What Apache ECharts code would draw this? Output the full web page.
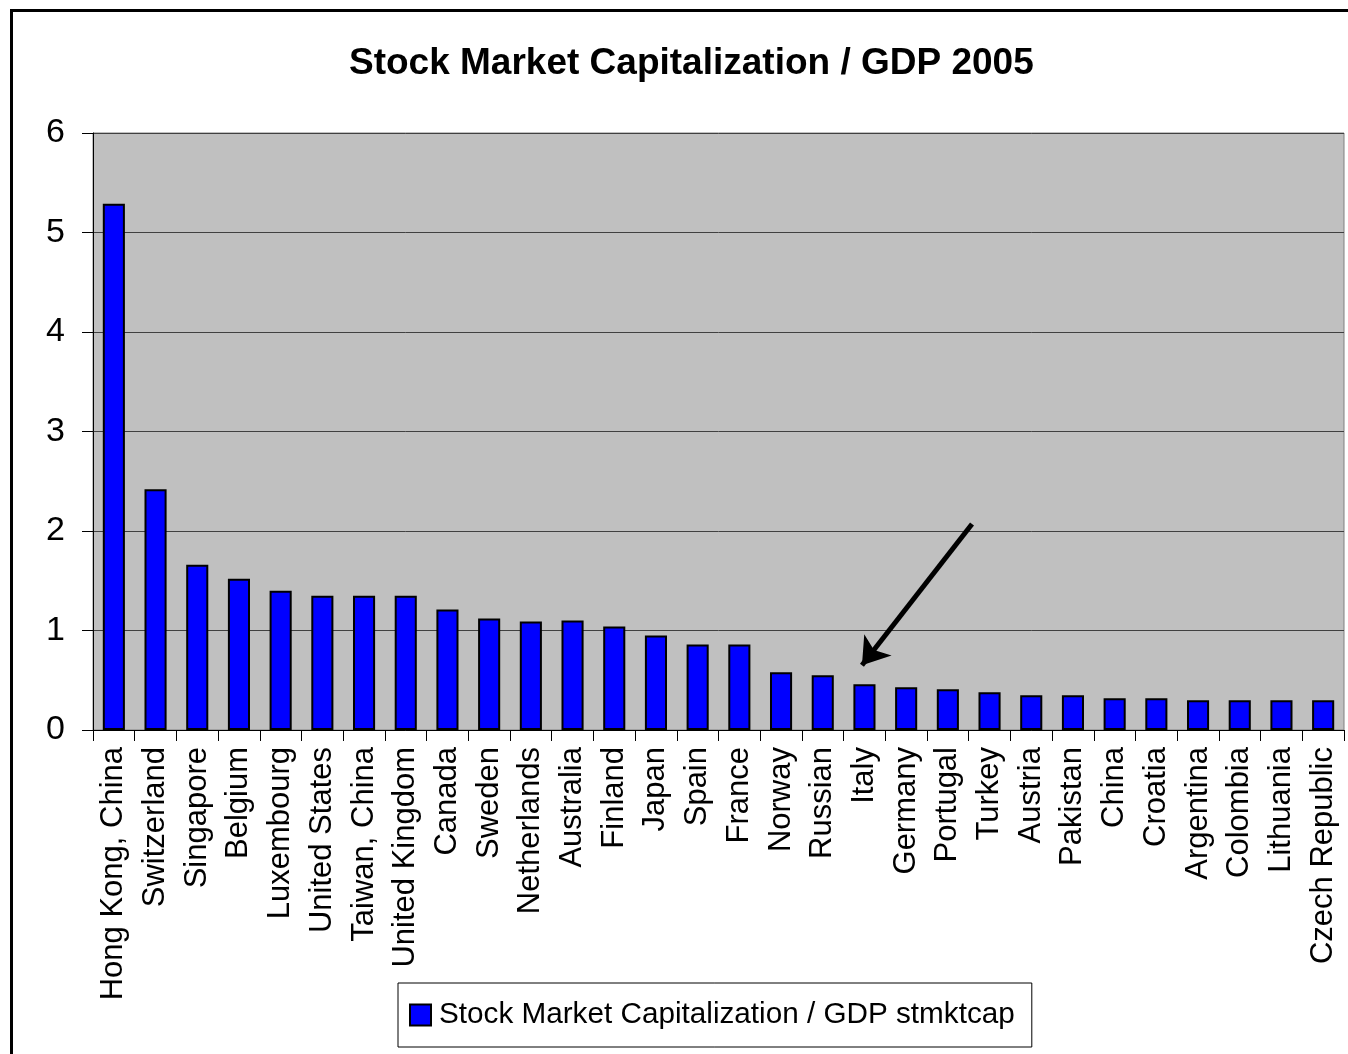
<!DOCTYPE html>
<html>
<head>
<meta charset="utf-8">
<script src="https://cdn.jsdelivr.net/npm/echarts@6/dist/echarts.min.js"></script>
<style>
html,body{margin:0;padding:0;background:#fff;}
#wrap{position:relative;width:1348px;height:1054px;overflow:hidden;}
#frame{position:absolute;left:10px;top:9px;width:1400px;height:1100px;border:3px solid #000;box-sizing:border-box;pointer-events:none;z-index:2;}
#chart{position:absolute;left:0;top:0;width:1348px;height:1054px;}
</style>
</head>
<body>
<div id="wrap"><div id="chart"></div><div id="frame"></div></div>
<script>
const categories = ["Hong Kong, China","Switzerland","Singapore","Belgium","Luxembourg","United States","Taiwan, China","United Kingdom","Canada","Sweden","Netherlands","Australia","Finland","Japan","Spain","France","Norway","Russian","Italy","Germany","Portugal","Turkey","Austria","Pakistan","China","Croatia","Argentina","Colombia","Lithuania","Czech Republic"];
const values = [5.29,2.42,1.66,1.52,1.40,1.35,1.35,1.35,1.21,1.12,1.09,1.10,1.04,0.95,0.86,0.86,0.58,0.55,0.46,0.43,0.41,0.38,0.35,0.35,0.32,0.32,0.30,0.30,0.30,0.30];
const seriesName = "Stock Market Capitalization / GDP stmktcap";
const titleText = "Stock Market Capitalization / GDP 2005";
const yTicks = [0,1,2,3,4,5,6];
// arrow annotation in data space (category position, value)
const arrowFrom = [20.58, 2.07];
const arrowTo = [17.94, 0.65];

const chart = echarts.init(document.getElementById('chart'), null, {renderer:'canvas'});
const font = 'Arial, "Liberation Sans", sans-serif';
chart.setOption({
  animation:false,
  backgroundColor:'#fff',
  title:{text:titleText,left:344,top:40,textStyle:{fontFamily:font,fontWeight:'bold',fontSize:37,color:'#000'}},
  grid:{left:93,right:4,top:133,bottom:324,show:true,backgroundColor:'#c0c0c0',borderColor:'#808080',borderWidth:1},
  legend:{
    data:[seriesName],left:398,top:983,padding:[17,17,17,11],
    borderColor:'#000',borderWidth:1,backgroundColor:'#fff',borderRadius:0,
    itemWidth:21,itemHeight:21,itemGap:8,icon:'rect',
    textStyle:{fontFamily:font,fontSize:29.7,color:'#000',padding:[0,0,0,3]},
    itemStyle:{borderColor:'#000',borderWidth:2}
  },
  xAxis:[{
    type:'category',data:categories,
    axisLine:{lineStyle:{color:'#000',width:1}},
    axisTick:{show:true,length:11,lineStyle:{color:'#000'}},
    axisLabel:{rotate:90,interval:0,margin:17,fontFamily:font,fontSize:31,color:'#000'}
  },{
    type:'value',min:-0.5,max:29.5,show:false
  }],
  yAxis:{
    type:'value',min:0,max:6,interval:1,
    axisLine:{show:true,onZero:false,lineStyle:{color:'#000',width:1}},
    axisTick:{show:true,length:11,lineStyle:{color:'#000'}},
    axisLabel:{margin:28,fontFamily:font,fontSize:34,color:'#000',formatter:v=>yTicks.includes(v)?String(v):''},
    splitLine:{lineStyle:{color:'#404040',width:1}}
  },
  series:[{
    name:seriesName,type:'bar',data:values,barCategoryGap:'47%',
    itemStyle:{color:'#0000ff',borderColor:'#000',borderWidth:2}
  },{
    type:'lines',coordinateSystem:'cartesian2d',xAxisIndex:1,yAxisIndex:0,
    symbol:['none','arrow'],symbolSize:[0,26],
    lineStyle:{color:'#000',width:5,opacity:1,curveness:0},
    data:[{coords:[arrowFrom,arrowTo]}],silent:true
  }]
});
</script>
</body>
</html>
